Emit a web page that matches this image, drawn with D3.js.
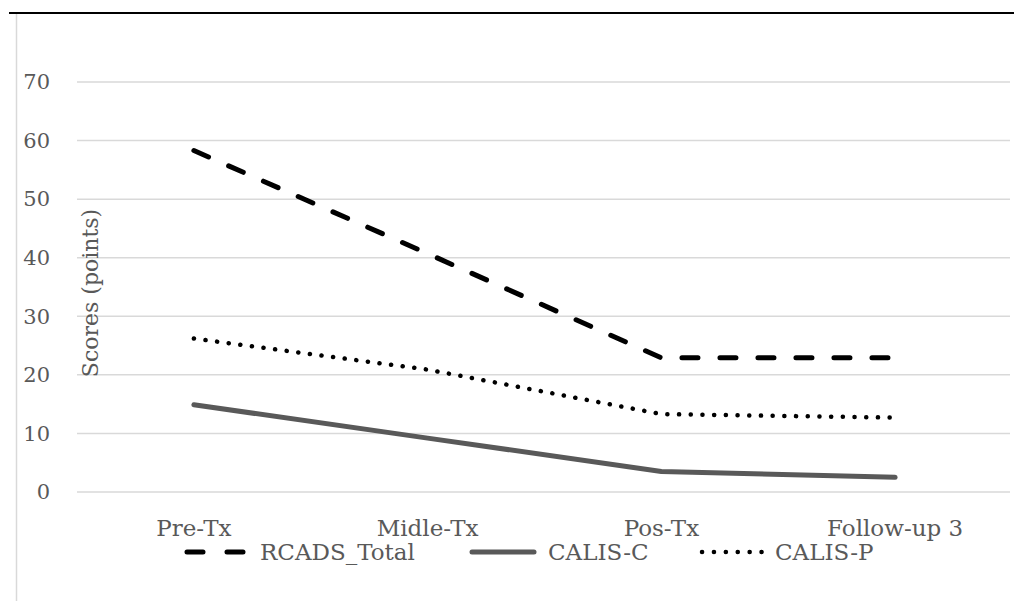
<!DOCTYPE html>
<html>
<head>
<meta charset="utf-8">
<script src="https://cdn.jsdelivr.net/npm/d3@7"></script>
<style>
  body { margin: 0; background: #fff; }
  text { font-family: "DejaVu Serif", serif; fill: #595959; }
</style>
</head>
<body>
<div id="chart"></div>
<script>
const categories = ["Pre-Tx", "Midle-Tx", "Pos-Tx", "Follow-up 3"];
const rcadsTotal = [58.3, 40.7, 22.9, 22.9];
const calisC = [14.9, 9.2, 3.5, 2.5];
const calisP = [26.2, 20.9, 13.3, 12.7];
const yTicks = [0, 10, 20, 30, 40, 50, 60, 70];

const series = [
    { name: "RCADS_Total", values: rcadsTotal, color: "#000", width: 5, dash: "16 22", legendDash: "16 24" },
    { name: "CALIS-C", values: calisC, color: "#595959", width: 5, dash: null, legendDash: null },
    { name: "CALIS-P", values: calisP, color: "#000", width: 4.5, dash: "0.1 11.6", legendDash: "0.1 11.8" },
];

const width = 1014;
const height = 601;

const svg = d3.select("#chart")
    .append("svg")
    .attr("width", width)
    .attr("height", height);

// frame: dark top rule and faint left edge
svg.append("line")
    .attr("x1", 9).attr("x2", width)
    .attr("y1", 13).attr("y2", 13)
    .attr("stroke", "#000").attr("stroke-width", 2);
svg.append("line")
    .attr("x1", 16.5).attr("x2", 16.5)
    .attr("y1", 14).attr("y2", height)
    .attr("stroke", "#d9d9d9").attr("stroke-width", 1.5);

const x = d3.scaleBand()
    .domain(categories)
    .range([77, 1012]);

const y = d3.scaleLinear()
    .domain([0, 70])
    .range([492, 82]);

// gridlines
svg.append("g")
    .selectAll("line")
    .data(yTicks)
    .enter()
    .append("line")
    .attr("x1", 77).attr("x2", 1010)
    .attr("y1", d => y(d)).attr("y2", d => y(d))
    .attr("stroke", "#d9d9d9")
    .attr("stroke-width", 1.5);

// y axis labels
const yAxis = d3.axisLeft(y).tickValues(yTicks).tickSize(0).tickPadding(0);
const yg = svg.append("g")
    .attr("transform", "translate(50,0)")
    .call(yAxis);
yg.select(".domain").remove();
yg.selectAll("text")
    .attr("font-size", "21px")
    .attr("font-family", "DejaVu Serif, serif")
    .attr("fill", "#595959");

// x axis labels
const xAxis = d3.axisBottom(x).tickSize(0).tickPadding(0);
const xg = svg.append("g")
    .attr("transform", "translate(0,520)")
    .call(xAxis);
xg.select(".domain").remove();
xg.selectAll("text")
    .attr("font-size", "23px")
    .attr("font-family", "DejaVu Serif, serif")
    .attr("fill", "#595959");

// axis title
svg.append("text")
    .attr("transform", "translate(98,293) rotate(-90)")
    .attr("text-anchor", "middle")
    .attr("font-size", "22px")
    .text("Scores (points)");

const line = d3.line()
    .x((d, i) => x(categories[i]) + x.bandwidth() / 2)
    .y(d => y(d));

svg.append("g")
    .selectAll("path")
    .data(series)
    .enter()
    .append("path")
    .attr("d", d => line(d.values))
    .attr("fill", "none")
    .attr("stroke", d => d.color)
    .attr("stroke-width", d => d.width)
    .attr("stroke-linecap", "round")
    .attr("stroke-linejoin", "round")
    .attr("stroke-dasharray", d => d.dash);

// legend
const legendX = [187, 472, 702];
const legend = svg.append("g")
    .selectAll("g")
    .data(series)
    .enter()
    .append("g")
    .attr("transform", (d, i) => `translate(${legendX[i]},552)`);

legend.append("line")
    .attr("x1", 0).attr("x2", 62)
    .attr("y1", 0).attr("y2", 0)
    .attr("stroke", d => d.color)
    .attr("stroke-width", d => d.width)
    .attr("stroke-linecap", "round")
    .attr("stroke-dasharray", d => d.legendDash);

legend.append("text")
    .attr("x", (d, i) => i === 1 ? 76 : 73)
    .attr("y", 8)
    .attr("font-size", "23px")
    .text(d => d.name);
</script>
</body>
</html>
